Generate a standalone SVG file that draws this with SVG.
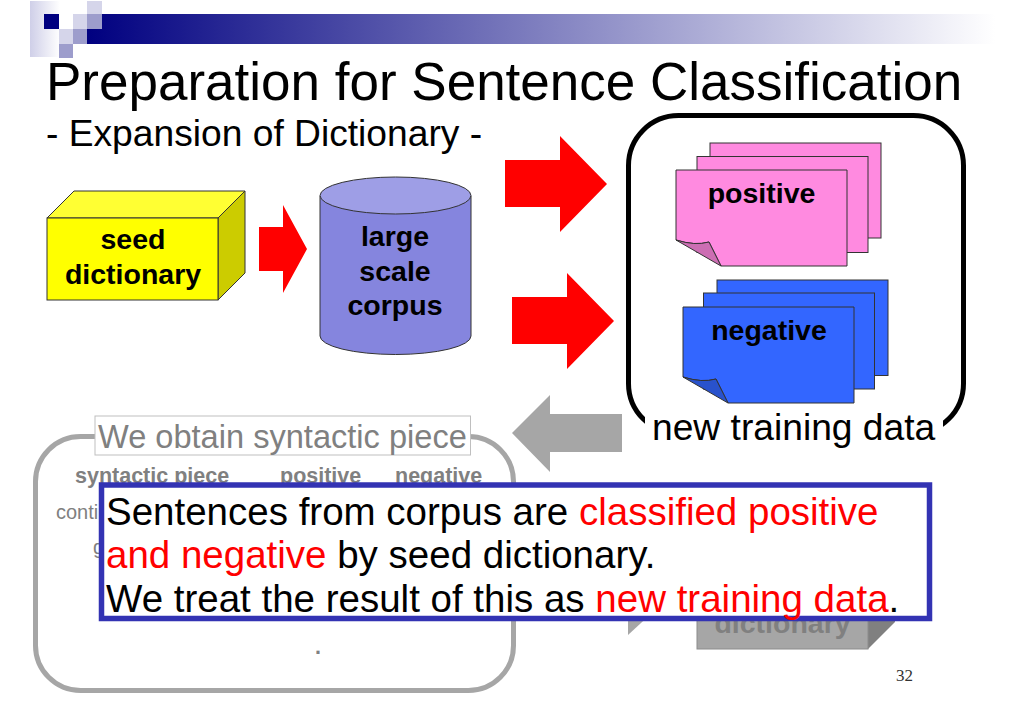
<svg xmlns="http://www.w3.org/2000/svg" width="1024" height="724" viewBox="0 0 1024 724">
<style>
text{font-family:"Liberation Sans",Arial,sans-serif}
.b{font-weight:bold;font-size:28.500px;fill:#000;text-anchor:middle}
.g{font-weight:bold;font-size:21.500px;fill:#808080}
.t{font-size:38.500px;fill:#000}
.r{fill:#f00}
.edge{stroke:#333;stroke-width:1}
</style>
<defs>
<linearGradient id="bar" x1="0" x2="1" y1="0" y2="0"><stop offset="0" stop-color="#000080"/><stop offset="1" stop-color="#fff"/></linearGradient>
<linearGradient id="sq" x1="0" x2="1" y1="0" y2="0"><stop offset="0" stop-color="#cfcfe8"/><stop offset="1" stop-color="#fff"/></linearGradient>
</defs>
<g id="header">
<rect x="87" y="14" width="908" height="30" fill="url(#bar)"/>
<rect x="30" y="1" width="30" height="56" fill="url(#sq)"/>
<rect x="44" y="14" width="15" height="15" fill="#000080"/>
<rect x="87" y="1" width="15" height="13" fill="#d5d5ea"/>
<rect x="73" y="14" width="14" height="15" fill="#d5d5ea"/>
<rect x="87" y="14" width="15" height="15" fill="#9d9dcc"/>
<rect x="59" y="29" width="14" height="15" fill="#d5d5ea"/>
<rect x="73" y="29" width="14" height="15" fill="#9d9dcc"/>
<rect x="59" y="44" width="14" height="14" fill="#9d9dcc"/>
</g>
<text x="46" y="100" font-size="53" fill="#000">Preparation for Sentence Classification</text>
<text x="46" y="146" font-size="37.200" fill="#000">- Expansion of Dictionary -</text>
<g id="connectors">
<polygon points="259,227 283,227 283,205 307,249 283,293 283,271 259,271" fill="#f00"/>
<polygon points="505,160 560,160 560,136 607,184 560,232 560,207 505,207" fill="#f00"/>
<polygon points="512,297 567,297 567,273 614,321 567,369 567,344 512,344" fill="#f00"/>
<polygon points="622,414 550,414 550,395 512,433 550,472 550,452 622,452" fill="#a6a6a6"/>
<polygon points="628,540 628,635 680,587" fill="#a6a6a6"/>
</g>
<g id="seed-dictionary">
<polygon points="47,218 74,191 245,191 218,218" fill="#ffff33" class="edge"/>
<polygon points="218,218 245,191 245,273 218,300" fill="#cccc00" class="edge"/>
<rect x="47" y="218" width="171" height="82" fill="#ff0" class="edge"/>
<text class="b" x="133" y="249">seed</text>
<text class="b" x="133" y="284">dictionary</text>
</g>
<g id="corpus">
<path d="M320 196V336A75.500 18.500 0 0 0 471 336V196Z" fill="#8585de" class="edge"/>
<ellipse cx="395.500" cy="195.500" rx="75.500" ry="18.500" fill="#9e9ee6" class="edge"/>
<text class="b" x="395" y="246">large</text>
<text class="b" x="395" y="281">scale</text>
<text class="b" x="395" y="315">corpus</text>
</g>
<g id="new-training-data">
<rect x="628.500" y="115.500" width="335" height="318" rx="50" fill="#fff" stroke="#000" stroke-width="5"/>
<rect x="645" y="414" width="298" height="34" fill="#fff"/>
<text x="652" y="440" font-size="37.200" fill="#000">new training data</text>
</g>
<g id="positive">
<rect x="710" y="143" width="171" height="95" fill="#ff8ae0" class="edge"/>
<rect x="697" y="156.500" width="171" height="96" fill="#ff8ae0" class="edge"/>
<path d="M676 170H847V266H721L709 242Q695 246 676 240Z" fill="#ff8ae0" class="edge"/>
<path d="M676 240Q695 246 709 242L721 266Z" fill="#cc6eb3" class="edge"/>
<text class="b" x="761.500" y="203">positive</text>
</g>
<g id="negative">
<rect x="717" y="280" width="171" height="95.500" fill="#3366ff" class="edge"/>
<rect x="703.500" y="293" width="171" height="96" fill="#3366ff" class="edge"/>
<path d="M683 307H854V403H728L716 379Q702 383 683 377Z" fill="#3366ff" class="edge"/>
<path d="M683 377Q702 383 716 379L728 403Z" fill="#2952cc" class="edge"/>
<text class="b" x="769" y="340">negative</text>
</g>
<g id="syntactic-piece">
<rect x="35.500" y="436.500" width="478" height="254" rx="45" fill="#fff" stroke="#a6a6a6" stroke-width="5"/>
<rect x="95" y="416" width="375.500" height="39" fill="#fff" stroke="#bfbfbf"/>
<text x="98" y="448" font-size="32.600" fill="#808080">We obtain syntactic piece</text>
<text class="g" x="75" y="483">syntactic piece</text>
<text class="g" x="280" y="483">positive</text>
<text class="g" x="395" y="483">negative</text>
<text x="56" y="519" font-size="20" fill="#808080">conti</text>
<text x="93" y="554" font-size="20" fill="#808080">g</text>
<text class="g" x="315" y="654">.</text>
</g>
<g id="dictionary">
<polygon points="868,621 895,594 895,622 868,649" fill="#808080"/>
<rect x="697" y="590" width="171" height="59" fill="#a6a6a6" stroke="#8c8c8c"/>
<text x="782.500" y="633" font-size="28.500" font-weight="bold" fill="#808080" text-anchor="middle">dictionary</text>
</g>
<g id="note">
<rect x="101.500" y="485" width="828" height="133.500" fill="#fff" stroke="#3333b3" stroke-width="5.500"/>
<text class="t" x="106" y="525">Sentences from corpus are <tspan class="r">classified positive</tspan></text>
<text class="t" x="106" y="568"><tspan class="r">and negative</tspan> by seed dictionary.</text>
<text class="t" x="106" y="612">We treat the result of this as <tspan class="r">new training data</tspan>.</text>
</g>
<text x="896" y="681" font-size="17" fill="#333" style="font-family:'Liberation Serif',serif">32</text>
</svg>
